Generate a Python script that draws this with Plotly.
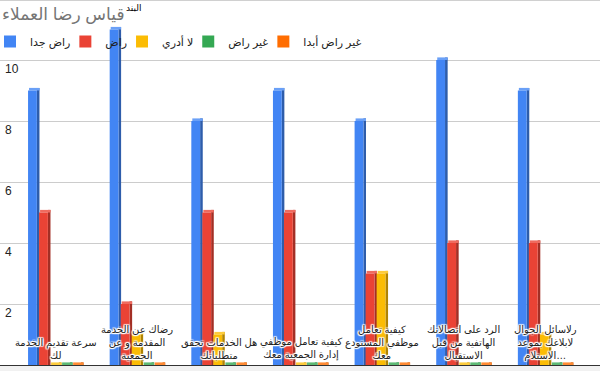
import plotly.graph_objects as go

# ---- data ----
categories = [
    "سرعة تقديم الخدمة لك",
    "رضاك عن الخدمة المقدمة و عن الجمعية",
    "هل الخدمات تحقق متطلباتك",
    "كيفية تعامل موظفي إدارة الجمعية معك",
    "كيفية تعامل موظفي المستودع معك",
    "الرد على اتصالاتك الهاتفية من قبل الاستقبال",
    "رلاسائل الجوال لابلاغك بموعد الاستلام",
]
category_labels = [
    "سرعة تقديم الخدمة<br>لك",
    "رضاك عن الخدمة<br>المقدمة و عن<br>الجمعية",
    "هل الخدمات تحقق<br>متطلباتك",
    "كيفية تعامل موظفي<br>إدارة الجمعية معك",
    "كيفية تعامل<br>موظفي المستودع<br>معك",
    "الرد على اتصالاتك<br>الهاتفية من قبل<br>الاستقبال",
    "رلاسائل الجوال<br>لابلاغك بموعد<br>الاستلام…",
]
series_names = ["راض جدا", "راض", "لا أدري", "غير راض", "غير راض أبدا"]
very_satisfied = [9, 11, 8, 9, 8, 10, 9]
satisfied = [5, 2, 5, 5, 3, 4, 4]
dont_know = [0, 1, 1, 0, 3, 0, 1]
not_satisfied = [0, 0, 0, 0, 0, 0, 0]
never_satisfied = [0, 0, 0, 0, 0, 0, 0]
series_values = [very_satisfied, satisfied, dont_know, not_satisfied, never_satisfied]
y_ticks = [2, 4, 6, 8, 10]

title_text = "قياس رضا العملاء"
axis_title = "البند"

# ---- styles ----
front_colors = ["#4285F4", "#EA4335", "#FBBC04", "#34A853", "#FF6D01"]
side_colors = ["#2E5DAB", "#A32F25", "#AF8303", "#24763A", "#B34C01"]
top_colors = ["#6AA0F7", "#EF6B5F", "#FCCB3C", "#5DB975", "#FF8A33"]

px_per_cat = 81.5
px_per_unit = 30.5
slot = 11 / px_per_cat
front_w = 8.8 / px_per_cat
side_w = 2.6 / px_per_cat
g0 = -27.5 / px_per_cat
depth = 2.6 / px_per_unit

FONT = "Liberation Sans, Arial, DejaVu Sans, sans-serif"

fig = go.Figure()
for k, (name, vals) in enumerate(zip(series_names, series_values)):
    off = g0 + k * slot
    # side face
    fig.add_trace(go.Bar(
        x=categories, y=[v + depth for v in vals], base=0,
        offset=off + front_w, width=side_w,
        marker=dict(color=side_colors[k], line=dict(width=0)),
        showlegend=False, hoverinfo="skip"))
    # top face
    fig.add_trace(go.Bar(
        x=categories, y=[depth] * len(vals), base=vals,
        offset=off + 1 / px_per_cat, width=front_w + side_w - 1 / px_per_cat,
        marker=dict(color=top_colors[k], line=dict(width=0)),
        showlegend=False, hoverinfo="skip"))
    # front face
    fig.add_trace(go.Bar(
        x=categories, y=vals, base=0,
        offset=off, width=front_w, name=name,
        marker=dict(color=front_colors[k], line=dict(width=0))))

halo = ("white 1px 0px 1px, white -1px 0px 1px, white 0px 1px 1px, white 0px -1px 1px, "
        "white 1px 1px 1px, white -1px -1px 1px, white 1px -1px 1px, white -1px 1px 1px")

annotations = []
for cat, lab in zip(categories, category_labels):
    annotations.append(dict(
        x=cat, y=0, xref="x", yref="y", text=lab, showarrow=False,
        yanchor="bottom", xanchor="center", align="center", yshift=2,
        font=dict(family=FONT, size=10, color="#222222", shadow=halo)))
annotations.append(dict(
    x=124 / 600, y=1 - 8 / 371, xref="paper", yref="paper", text=axis_title,
    showarrow=False, xanchor="left", yanchor="middle",
    font=dict(family=FONT, size=9, color="#000000")))

ymax = 365 / px_per_unit
ymin = -6 / px_per_unit

fig.update_layout(
    width=600, height=371,
    margin=dict(l=0, r=0, t=0, b=0),
    paper_bgcolor="white", plot_bgcolor="white",
    barmode="overlay",
    title=dict(text=title_text, x=2 / 600, xanchor="left", xref="paper",
               y=1 - 14 / 371, yanchor="middle", yref="container",
               font=dict(family=FONT, size=17, color="#757575")),
    legend=dict(orientation="h", x=0, xanchor="left", y=1 - 27 / 371, yanchor="top",
                indentation=-10,
                bgcolor="rgba(0,0,0,0)", font=dict(family=FONT, size=11, color="#222222"),
                itemclick=False, tracegroupgap=0),
    xaxis=dict(range=[-55.5 / px_per_cat, 6 + 54.5 / px_per_cat], showticklabels=False,
               showgrid=False, zeroline=False, showline=False, ticks=""),
    yaxis=dict(range=[ymin, ymax], tickvals=y_ticks, ticktext=[str(t) for t in y_ticks],
               ticklabelposition="inside bottom", showgrid=True, gridcolor="#cccccc",
               gridwidth=1, zeroline=True, zerolinecolor="#333333", zerolinewidth=1,
               tickfont=dict(family=FONT, size=12, color="#222222"), ticklabelstandoff=2),
    annotations=annotations,
    shapes=[
        dict(type="rect", xref="paper", yref="y", x0=0, x1=1, y0=ymin, y1=-1 / px_per_unit,
             fillcolor="#f1f1f1", line=dict(width=0), layer="below"),
        dict(type="line", xref="paper", yref="paper", x0=0, x1=1, y0=1, y1=1,
             line=dict(color="#d0d0d0", width=2)),
    ],
)

fig.write_html("out.html", config={"displayModeBar": False},
               post_script="document.body.style.margin='0px';")
